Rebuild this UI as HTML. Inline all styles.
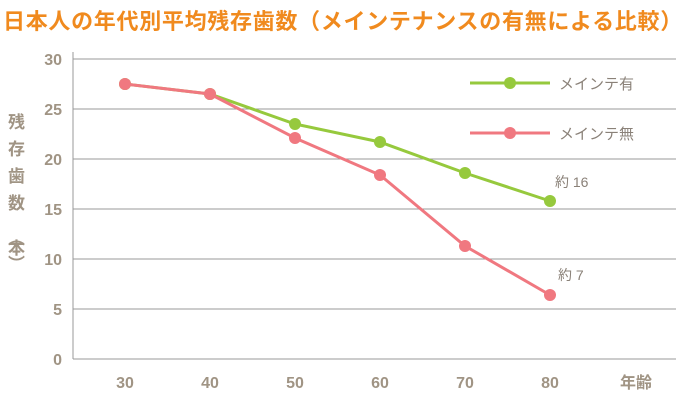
<!DOCTYPE html>
<html><head><meta charset="utf-8"><style>
body{margin:0;background:#fff;width:690px;height:400px;overflow:hidden}
svg text{font-family:"Liberation Sans","Noto Sans CJK JP",sans-serif}
</style></head><body>
<svg width="690" height="400">
<text x="3" y="29" font-size="22" font-weight="bold" letter-spacing="0.7" fill="#f08a1e">日本人の年代別平均残存歯数（メインテナンスの有無による比較）</text>
<g id="grid"></g>
<g id="series"></g>
<g>
<line x1="470" y1="83" x2="550" y2="83" stroke="#96c93d" stroke-width="3"/>
<circle cx="510" cy="83" r="6" fill="#96c93d"/>
<text x="559" y="89" font-size="15" fill="#8a8178">メインテ有</text>
<line x1="470" y1="133" x2="550" y2="133" stroke="#f07880" stroke-width="3"/>
<circle cx="510" cy="133" r="6" fill="#f07880"/>
<text x="559" y="139" font-size="15" fill="#8a8178">メインテ無</text>
</g>
<text x="555" y="187" font-size="14" fill="#8a8178">約 16</text>
<text x="558" y="280" font-size="14" fill="#8a8178">約 7</text>
<text x="620" y="388" font-size="16" font-weight="bold" fill="#a09484">年齢</text>
<g font-size="17" font-weight="bold" fill="#a09484">
<text x="8" y="128">残</text><text x="8" y="155">存</text><text x="8" y="182">歯</text><text x="8" y="209">数</text>
<text x="8" y="244">︵</text><text x="8" y="254">本</text><text x="8" y="270">︶</text>
</g>
</svg>
<script>
const categories=[30,40,50,60,70,80];
const withMaint=[27.5,26.5,23.5,21.7,18.6,15.8];
const withoutMaint=[27.5,26.5,22.1,18.4,11.3,6.4];
const yTicks=[0,5,10,15,20,25,30];
const NS="http://www.w3.org/2000/svg";
const x=c=>125+(c-30)*8.5;
const y=v=>359-v*10;
const grid=document.getElementById('grid'),ser=document.getElementById('series');
function mk(tag,attrs,parent){const e=document.createElementNS(NS,tag);for(const k in attrs)e.setAttribute(k,attrs[k]);parent.appendChild(e);return e;}
yTicks.forEach(t=>{
 const l=mk('line',{x1:73,x2:676,y1:y(t),y2:y(t),stroke:'#999','stroke-width':1},grid);
 
 
 const tx=mk('text',{x:62,y:y(t)+6,'text-anchor':'end','font-size':16,'font-weight':'bold',fill:'#a09484'},grid);
 tx.textContent=t;
 
 
});
const ax=mk('line',{x1:73,x2:73,y1:52,y2:359,stroke:'#999','stroke-width':1},grid);


categories.forEach(c=>{
 const tx=mk('text',{x:x(c),y:388,'text-anchor':'middle','font-size':16,'font-weight':'bold',fill:'#a09484'},grid);
 tx.textContent=c;
 
 
});
function draw(vals,color,name){
 const p=mk('polyline',{points:vals.map((v,i)=>x(categories[i])+','+y(v)).join(' '),fill:'none',stroke:color,'stroke-width':3},ser);
 
 
 vals.forEach((v,i)=>{
  const c=mk('circle',{cx:x(categories[i]),cy:y(v),r:6,fill:color},ser);
  
  
 });
}
draw(withMaint,'#96c93d','with-maintenance');
draw(withoutMaint,'#f07880','without-maintenance');
</script>
</body></html>
